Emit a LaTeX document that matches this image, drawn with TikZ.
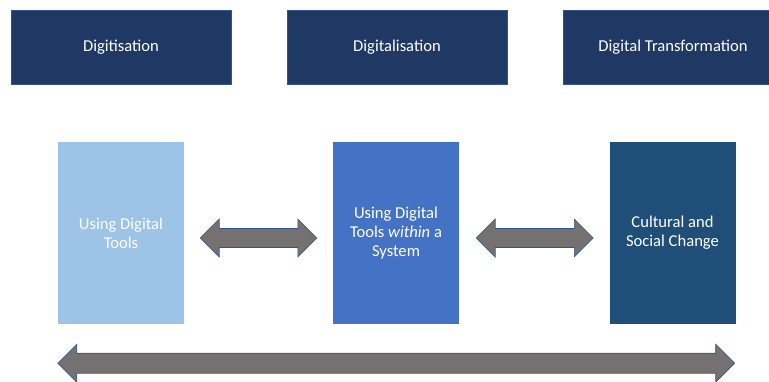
\documentclass[tikz,border=0pt]{standalone}
\usepackage{fontspec}
\setmainfont{Carlito}
\usetikzlibrary{calc}

\definecolor{navy}{HTML}{203864}
\definecolor{paleblue}{HTML}{9DC3E6}
\definecolor{midblue}{HTML}{4472C4}
\definecolor{deepblue}{HTML}{1F4E79}
\definecolor{arrowgray}{HTML}{767171}
\definecolor{edgeblue}{HTML}{2F5597}

\tikzset{
  stage/.style={fill=navy, draw=edgeblue, line width=0.4pt, text=white,
    minimum width=220pt, minimum height=74pt, inner sep=0pt,
    font=\fontsize{16.6}{19.5}\selectfont},
  level/.style={text=white, minimum width=126pt, minimum height=182pt,
    inner sep=0pt, align=center, font=\fontsize{16.6}{19.3}\selectfont},
  blockarrow/.style={fill=arrowgray, draw=edgeblue, line width=0.6pt, line join=miter},
}

% Flecha de doble punta entre dos puntos (mitad del cuerpo, mitad de la cabeza).
\newcommand\dblarrow[4]{%
  \draw[blockarrow] let \p1=(#1), \p2=(#2) in
    (\x1,\y1) -- (\x1+19pt,\y1+#4) -- (\x1+19pt,\y1+#3)
    -- (\x2-19pt,\y1+#3) -- (\x2-19pt,\y1+#4) -- (\x2,\y1)
    -- (\x2-19pt,\y1-#4) -- (\x2-19pt,\y1-#3)
    -- (\x1+19pt,\y1-#3) -- (\x1+19pt,\y1-#4) -- cycle;}

\begin{document}
\begin{tikzpicture}[x=1pt, y=-1pt]
    \useasboundingbox (0,0) rectangle (769,381);
    \clip (0,0) rectangle (769,381);

    % Las tres etapas en la fila superior.
    \node[stage] (stage1) at (121,47) {Digitisation};
    \node[stage] (stage2) at (397,47) {Digitalisation};
    \node[stage] (stage3) at (673,47) {Digital Transformation};

    % Los tres niveles debajo.
    \node[level, fill=paleblue] (level1) at (121,233) {Using Digital\\Tools};
    \node[level, fill=midblue] (level2) at (396,233) {Using Digital\\Tools \textit{within} a\\System};
    \node[level, fill=deepblue] (level3) at (672.5,233) {Cultural and\\Social Change};

    % Extremos de las flechas.
    \coordinate (arrow1s) at ($(level1.east)+(16,5)$);
    \coordinate (arrow1e) at ($(level2.west)+(-16,5)$);
    \coordinate (arrow2s) at ($(level2.east)+(17,5)$);
    \coordinate (arrow2e) at ($(level3.west)+(-16,5)$);
    \coordinate (spans) at ($(level1.south west)+(0,39)$);
    \coordinate (spane) at ($(level3.south east)+(-1,39)$);

    % Dibuja las flechas.
    \dblarrow{arrow1s}{arrow1e}{9.5pt}{19pt}
    \dblarrow{arrow2s}{arrow2e}{9.5pt}{19pt}
    \dblarrow{spans}{spane}{10pt}{19pt}
\end{tikzpicture}
\end{document}
